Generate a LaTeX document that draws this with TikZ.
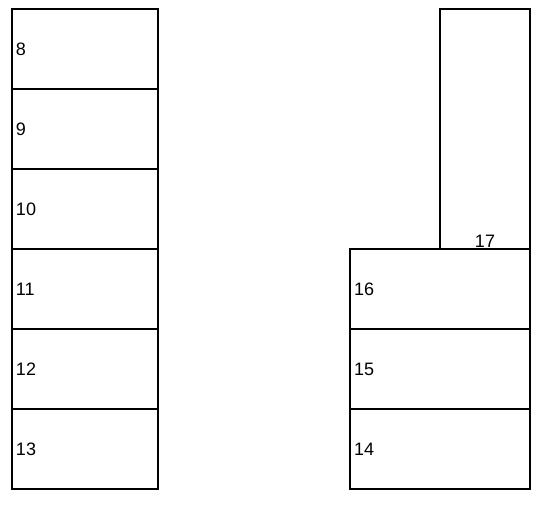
\documentclass[tikz,border=0pt]{standalone}
\usepackage{fontspec}
\setmainfont{Liberation Sans}
\usetikzlibrary{positioning}
\tikzset{
  cell/.style={draw, rectangle, line width=1.5pt, outer sep=0pt, inner xsep=4pt, minimum height=80pt, align=left},
  leftcell/.style={cell, minimum width=146pt, text width=138pt},
  rightcell/.style={cell, minimum width=180pt, text width=172pt},
}
\begin{document}
\begin{tikzpicture}[x=1pt, y=-1pt, node distance=0pt, font=\fontsize{18}{21}\selectfont]
	\useasboundingbox (0,0) rectangle (547,505);
	% left column
	\node[leftcell] (b8) at (85,49) {8};
	\node[leftcell, below=of b8] (b9) {9};
	\node[leftcell, below=of b9] (b10) {10};
	\node[leftcell, below=of b10] (b11) {11};
	\node[leftcell, below=of b11] (b12) {12};
	\node[leftcell, below=of b12] (b13) {13};
	
	% right column
	\node[rightcell] (b14) at (440,449) {14};
	\node[rightcell, above=of b14] (b15) {15};
	\node[rightcell, above=of b15] (b16) {16};
	\node[cell, minimum width=90pt, minimum height=240pt, anchor=south east,
		label={[anchor=south, inner sep=1pt]south:17}] (b17) at (b16.north east) {};
\end{tikzpicture}
\end{document}
